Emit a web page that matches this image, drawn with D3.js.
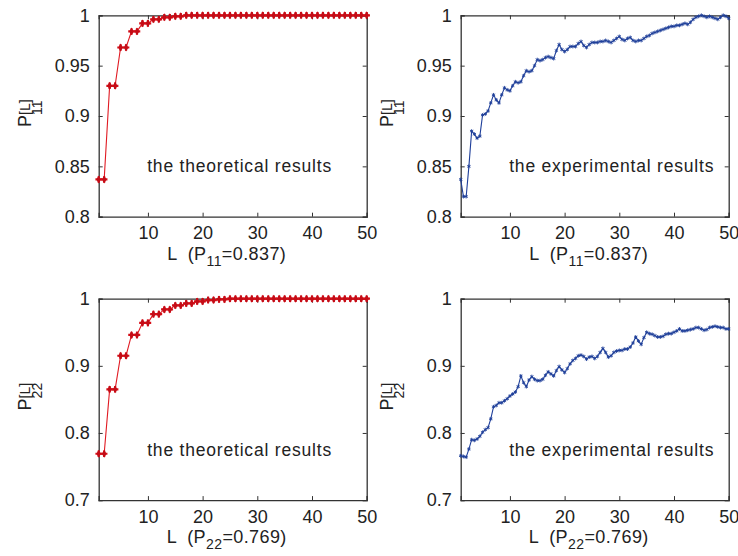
<!DOCTYPE html>
<html>
<head>
<meta charset="utf-8">
<script src="https://cdn.jsdelivr.net/npm/d3@7"></script>
<style>
  body { margin: 0; background: #fff; }
  text { font-family: "Liberation Sans", Arial, sans-serif; fill: #222; white-space: pre; }
</style>
</head>
<body>
<div id="chart"></div>
<script>
// L values
const L_theory = [1,2,3,4,5,6,7,8,9,10,11,12,13,14,15,16,17,18,19,20,21,22,23,24,25,
  26,27,28,29,30,31,32,33,34,35,36,37,38,39,40,41,42,43,44,45,46,47,48,49,50];
const L_exper = d3.range(1, 50.01, 0.5);

// theoretical P11^[L]
const theory11 = [0.837,0.837,0.930,0.930,0.968,0.968,0.984,0.984,0.992,0.992,
  0.996,0.996,0.998,0.998,0.999,0.999,1,1,1,1,1,1,1,1,1,
  1,1,1,1,1,1,1,1,1,1,1,1,1,1,1,1,1,1,1,1,1,1,1,1,1];

// theoretical P22^[L]
const theory22 = [0.769,0.769,0.865,0.865,0.915,0.915,0.946,0.946,0.964,0.964,
  0.977,0.977,0.984,0.984,0.990,0.990,0.993,0.993,0.996,0.996,0.998,0.998,0.999,0.999,1,
  1,1,1,1,1,1,1,1,1,1,1,1,1,1,1,1,1,1,1,1,1,1,1,1,1];

// experimental P11^[L]
const exper11 = [0.837,0.820,0.820,0.850,0.885,0.882,0.878,0.880,0.901,0.902,
  0.905,0.913,0.921,0.916,0.913,0.921,0.928,0.926,0.925,0.930,
  0.934,0.933,0.934,0.940,0.945,0.944,0.945,0.950,0.956,0.955,
  0.956,0.958,0.959,0.958,0.957,0.965,0.971,0.966,0.964,0.966,
  0.969,0.969,0.969,0.972,0.974,0.970,0.968,0.971,0.973,0.973,
  0.973,0.974,0.974,0.975,0.974,0.973,0.975,0.977,0.979,0.976,
  0.975,0.977,0.978,0.975,0.974,0.975,0.975,0.977,0.979,0.980,
  0.982,0.983,0.984,0.985,0.986,0.987,0.988,0.989,0.989,0.990,
  0.990,0.991,0.992,0.991,0.993,0.996,0.998,0.999,1.000,0.999,
  0.998,0.999,0.998,0.997,0.996,0.998,1.000,0.999,0.997];

// experimental P22^[L]
const exper22 = [0.766,0.765,0.764,0.776,0.790,0.789,0.791,0.795,0.801,0.805,
  0.808,0.821,0.839,0.841,0.845,0.845,0.848,0.851,0.855,0.858,
  0.861,0.869,0.885,0.875,0.869,0.879,0.884,0.880,0.878,0.878,
  0.880,0.886,0.891,0.888,0.885,0.893,0.899,0.894,0.890,0.896,
  0.903,0.908,0.911,0.915,0.916,0.914,0.910,0.913,0.914,0.911,
  0.914,0.920,0.926,0.920,0.913,0.915,0.920,0.922,0.923,0.923,
  0.925,0.925,0.928,0.934,0.943,0.937,0.932,0.942,0.950,0.948,
  0.947,0.945,0.943,0.943,0.944,0.947,0.948,0.948,0.950,0.952,
  0.955,0.952,0.952,0.953,0.954,0.955,0.957,0.957,0.955,0.953,
  0.954,0.957,0.958,0.959,0.958,0.957,0.957,0.955,0.955];

const xTicks = [10, 20, 30, 40, 50];
const yTicksTop = [0.8, 0.85, 0.9, 0.95, 1];
const yTicksBottom = [0.7, 0.8, 0.9, 1];

const red = "#e01a22";
const blue = "#1f3f9a";

const panels = [
  {left: 98.7, top: 15.3, xs: L_theory, ys: theory11, yDomain: [0.8, 1], yTicks: yTicksTop,
   color: red, kind: "theory", note: "the theoretical results", sub: "11", p: "0.837"},
  {left: 460.7, top: 15.3, xs: L_exper, ys: exper11, yDomain: [0.8, 1], yTicks: yTicksTop,
   color: blue, kind: "exper", note: "the experimental results", sub: "11", p: "0.837"},
  {left: 98.7, top: 298.7, xs: L_theory, ys: theory22, yDomain: [0.7, 1], yTicks: yTicksBottom,
   color: red, kind: "theory", note: "the theoretical results", sub: "22", p: "0.769"},
  {left: 460.7, top: 298.7, xs: L_exper, ys: exper22, yDomain: [0.7, 1], yTicks: yTicksBottom,
   color: blue, kind: "exper", note: "the experimental results", sub: "22", p: "0.769"}
];

const W = 268, H = 201.4;

const svg = d3.select("#chart").append("svg")
  .attr("width", 738)
  .attr("height", 556);

panels.forEach(drawPanel);

function drawPanel(p) {
  const g = svg.append("g")
    .attr("transform", "translate(" + p.left + "," + p.top + ")");

  const x = d3.scaleLinear().domain([1, 50]).range([0, W]);
  const y = d3.scaleLinear().domain(p.yDomain).range([H, 0]);

  const fmt = d => String(+d.toFixed(2));

  // axes with inward ticks, MATLAB box style
  g.append("g").attr("transform", "translate(0," + H + ")")
    .call(d3.axisBottom(x).tickValues(xTicks).tickSize(-4).tickPadding(10).tickFormat(d3.format("d")));
  g.append("g")
    .call(d3.axisTop(x).tickValues(xTicks).tickSize(-4).tickFormat(""));
  g.append("g")
    .call(d3.axisLeft(y).tickValues(p.yTicks).tickSize(-4).tickPadding(9).tickFormat(fmt));
  g.append("g").attr("transform", "translate(" + W + ",0)")
    .call(d3.axisRight(y).tickValues(p.yTicks).tickSize(-4).tickFormat(""));

  g.selectAll(".domain").attr("stroke", "#333").attr("stroke-width", 1.3);
  g.selectAll(".tick line").attr("stroke", "#333");
  g.selectAll(".tick text").style("font-size", "18px").attr("fill", "#222");

  const pts = p.xs.map((d, i) => [d, p.ys[i]]);

  const line = d3.line().x(d => x(d[0])).y(d => y(d[1]));
  g.append("path")
    .datum(pts)
    .attr("fill", "none")
    .attr("stroke", p.color)
    .attr("stroke-width", 1.1)
    .attr("d", line);

  if (p.kind === "theory") {
    g.selectAll(".mk")
      .data(pts)
      .enter()
      .append("path")
      .attr("transform", d => "translate(" + x(d[0]) + "," + y(d[1]) + ")")
      .attr("d", d3.symbol().type(d3.symbolCross).size(24))
      .attr("fill", "#d8101a");
    g.selectAll(".mk2")
      .data(pts)
      .enter()
      .append("path")
      .attr("transform", d => "translate(" + x(d[0]) + "," + y(d[1]) + ")")
      .attr("d", d3.symbol().type(d3.symbolDiamond).size(18))
      .attr("fill", "#c40c16");
  } else {
    g.selectAll(".mk")
      .data(pts)
      .enter()
      .append("path")
      .attr("transform", d => "translate(" + x(d[0]) + "," + y(d[1]) + ")")
      .attr("d", d3.symbol().type(d3.symbolAsterisk).size(10))
      .attr("fill", "none")
      .attr("stroke", p.color)
      .attr("stroke-width", 0.9);
  }

  // annotation
  g.append("text")
    .attr("x", 48.5)
    .attr("y", 157)
    .style("font-size", "17.5px")
    .style("letter-spacing", "0.8px")
    .text(p.note);

  // x label
  const xl = g.append("text")
    .attr("x", W / 2 - 6)
    .attr("y", H + 43)
    .attr("text-anchor", "middle")
    .style("font-size", "18px")
    .style("letter-spacing", "0.4px");
  xl.append("tspan").text("L  (P");
  xl.append("tspan").attr("dy", 6).style("font-size", "14px").text(p.sub);
  xl.append("tspan").attr("dy", -6).text("=" + p.p + ")");

  // y label: P with stacked superscript [L] and subscript
  const yl = g.append("g")
    .attr("transform", "translate(-68," + (H / 2 - 3) + ") rotate(-90)");
  const pT = yl.append("text").attr("x", -14).attr("y", 0)
    .style("font-size", "18px").text("P");
  const pw = pT.node().getComputedTextLength();
  yl.append("text").attr("x", -14 + pw).attr("y", -1)
    .style("font-size", "14px").text("[L]");
  yl.append("text").attr("x", -14 + pw).attr("y", 11.5)
    .style("font-size", "14px").text(p.sub);
}
</script>
</body>
</html>
